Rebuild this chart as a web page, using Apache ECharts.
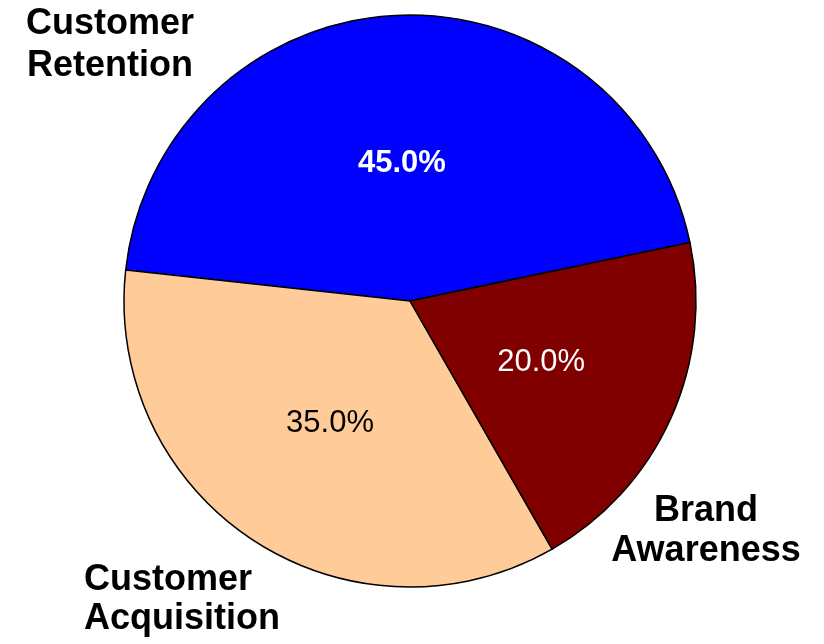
<!DOCTYPE html>
<html>
<head>
<meta charset="utf-8">
<script src="https://cdn.jsdelivr.net/npm/echarts@6/dist/echarts.min.js"></script>
<style>html,body{margin:0;padding:0;background:#fff}#c{width:824px;height:644px}</style>
</head>
<body>
<div id="c"></div>
<script>
// Data
var categories = ['Customer Retention', 'Customer Acquisition', 'Brand Awareness'];
var shares = [45, 35, 20];

// Styles (kept separate from data)
var sliceColors = ['#0000FF', '#FFCC99', '#800000'];
var pctColors = ['#FFFFFF', '#000000', '#FFFFFF'];
var pctWeights = ['bold', 'normal', 'normal'];
var pctOffsets = [[-1, 8], [0, 0], [-2, 2]];
var namePos = [ {x: 110, y: 45, align: 'center', lh: 42}, {x: 84, y: 600, align: 'left', lh: 39}, {x: 706, y: 531, align: 'center', lh: 40} ];

var total = shares.reduce(function (a, b) { return a + b; }, 0);
var FONT = '"Liberation Sans", Arial, sans-serif';

var chart = echarts.init(document.getElementById('c'), null, {renderer: 'canvas'});

var pieData = categories.map(function (n, i) {
  return {
    name: n, value: shares[i],
    itemStyle: {color: sliceColors[i]},
    label: {color: pctColors[i], fontWeight: pctWeights[i], offset: pctOffsets[i]}
  };
});
var nameData = categories.map(function (n, i) {
  return {name: n, value: shares[i], label: {lineHeight: namePos[i].lh}};
});

chart.setOption({
  backgroundColor: '#ffffff',
  animation: false,
  series: [
    {
      type: 'pie',
      center: [410, 301],
      radius: [0, 286],
      startAngle: 11.8,
      clockwise: false,
      silent: true,
      itemStyle: {borderColor: '#000000', borderWidth: 1.5},
      label: {
        show: true,
        position: 'inside',
        fontFamily: FONT,
        fontSize: 31,
        formatter: function (p) { return (p.value / total * 100).toFixed(1) + '%'; }
      },
      labelLine: {show: false},
      data: pieData
    },
    {
      type: 'pie',
      center: [410, 301],
      radius: [0, 286],
      startAngle: 11.8,
      clockwise: false,
      silent: true,
      z: 5,
      itemStyle: {color: 'rgba(0,0,0,0)', borderWidth: 0},
      label: {
        show: true,
        position: 'outside',
        overflow: 'none',
        fontFamily: FONT,
        fontSize: 36,
        fontWeight: 'bold',
        color: '#000000',
        lineHeight: 40,
        formatter: function (p) { return p.name.replace(' ', '\n'); }
      },
      labelLine: {show: false},
      labelLayout: function (p) {
        var pos = namePos[p.dataIndex];
        return {x: pos.x, y: pos.y, align: pos.align, verticalAlign: 'middle'};
      },
      data: nameData
    }
  ]
});
</script>
</body>
</html>
